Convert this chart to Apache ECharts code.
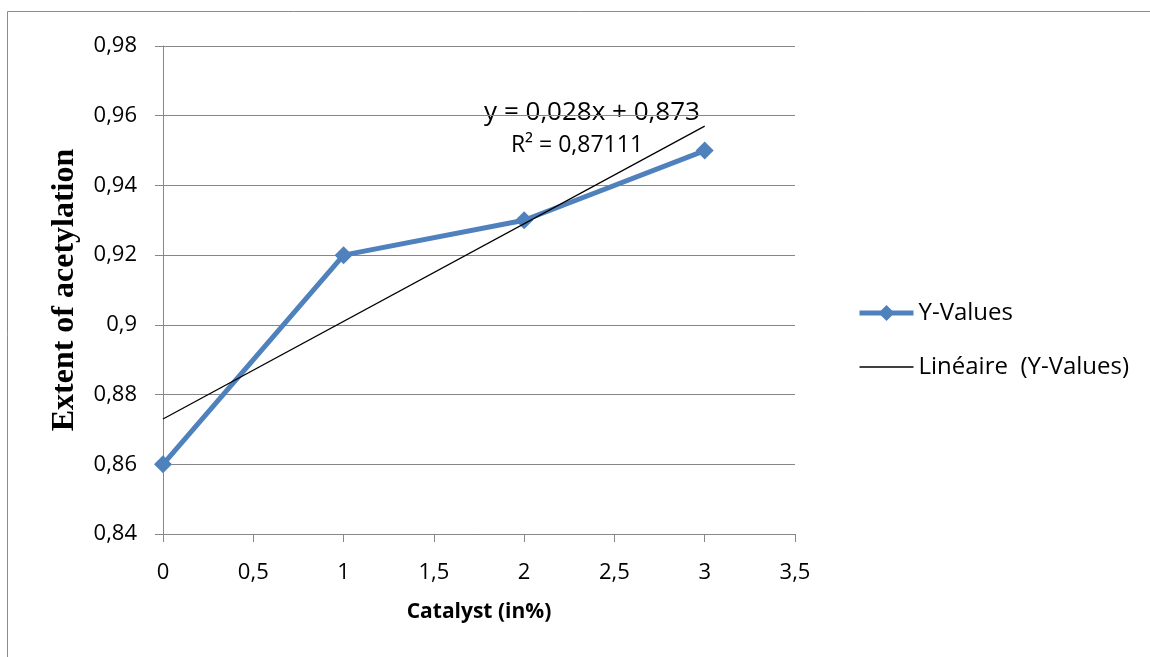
<!DOCTYPE html>
<html><head><meta charset="utf-8">
<script src="https://cdn.jsdelivr.net/npm/echarts@6/dist/echarts.min.js"></script>
<style>html,body{margin:0;padding:0;background:#fff}#c{width:1150px;height:657px}</style>
</head><body><div id="c"></div>
<script>
var catalyst = [0, 1, 2, 3];
var yValues = [0.86, 0.92, 0.93, 0.95];
var trendX = [0, 3];
var trendY = [0.873, 0.957];
var yTicks = {min: 0.84, max: 0.98, interval: 0.02};
var xTicks = {min: 0, max: 3.5, interval: 0.5};
var equationText = 'y = 0,028x + 0,873';
var r2Text = 'R² = 0,87111';

var fmt = function (v) { return String(+v.toFixed(2)).replace('.', ','); };
var font = '"Open Sans", Calibri, sans-serif';
var chart = echarts.init(document.getElementById('c'));
chart.setOption({
  animation: false,
  backgroundColor: '#fff',
  grid: {left: 163, right: 355, top: 46, bottom: 123},
  xAxis: {
    type: 'value', min: xTicks.min, max: xTicks.max, interval: xTicks.interval,
    name: 'Catalyst (in%)', nameLocation: 'middle', nameGap: 68,
    nameTextStyle: {fontFamily: font, fontWeight: 'bold', fontSize: 21, color: '#000'},
    axisLine: {lineStyle: {color: '#878787', width: 1}},
    axisTick: {show: true, length: 8, lineStyle: {color: '#878787'}},
    axisLabel: {formatter: fmt, fontFamily: font, fontSize: 22, color: '#000', margin: 28},
    splitLine: {show: false}
  },
  yAxis: {
    type: 'value', min: yTicks.min, max: yTicks.max, interval: yTicks.interval,
    name: 'Extent of acetylation', nameLocation: 'middle', nameGap: 82,
    nameTextStyle: {fontFamily: '"Liberation Serif", "Times New Roman", serif', fontWeight: 'bold', fontSize: 32, color: '#000'},
    axisLine: {show: true, lineStyle: {color: '#878787', width: 1}},
    axisTick: {show: true, length: 8, lineStyle: {color: '#878787'}},
    axisLabel: {formatter: fmt, fontFamily: font, fontSize: 22, color: '#000', margin: 26},
    splitLine: {show: true, lineStyle: {color: '#868686', width: 1}}
  },
  legend: {
    orient: 'vertical', left: 852, top: 296, itemGap: 30, itemWidth: 54, itemHeight: 20,
    textStyle: {fontFamily: font, fontSize: 24, color: '#000', padding: [0, 0, 0, 0]},
    data: [
      {name: 'Y-Values', lineStyle: {width: 5, color: '#4F81BD'}},
      {name: 'Linéaire  (Y-Values)', itemStyle: {opacity: 0}, lineStyle: {width: 1.5, color: '#000'}}
    ]
  },
  series: [
    {
      name: 'Linéaire  (Y-Values)', type: 'line', showSymbol: false, symbol: 'none',
      data: trendX.map(function (x, i) { return [x, trendY[i]]; }),
      lineStyle: {color: '#000', width: 1.3}, itemStyle: {color: '#000'}, z: 3
    },
    {
      name: 'Y-Values', type: 'line', symbol: 'diamond', symbolSize: 18,
      data: catalyst.map(function (x, i) { return [x, yValues[i]]; }),
      lineStyle: {color: '#4F81BD', width: 5}, itemStyle: {color: '#4F81BD'}, z: 2
    }
  ],
  graphic: [
    {type: 'rect', shape: {x: 7.5, y: 11.5, width: 1160, height: 680}, style: {fill: 'none', stroke: '#8c8c8c', lineWidth: 1}, silent: true},
    {type: 'text', x: 592, y: 113, style: {text: equationText, font: '26px ' + font, fill: '#000', textAlign: 'center', textVerticalAlign: 'middle'}},
    {type: 'text', x: 577, y: 145, style: {text: r2Text, font: '23px ' + font, fill: '#000', textAlign: 'center', textVerticalAlign: 'middle'}}
  ]
});
</script></body></html>
